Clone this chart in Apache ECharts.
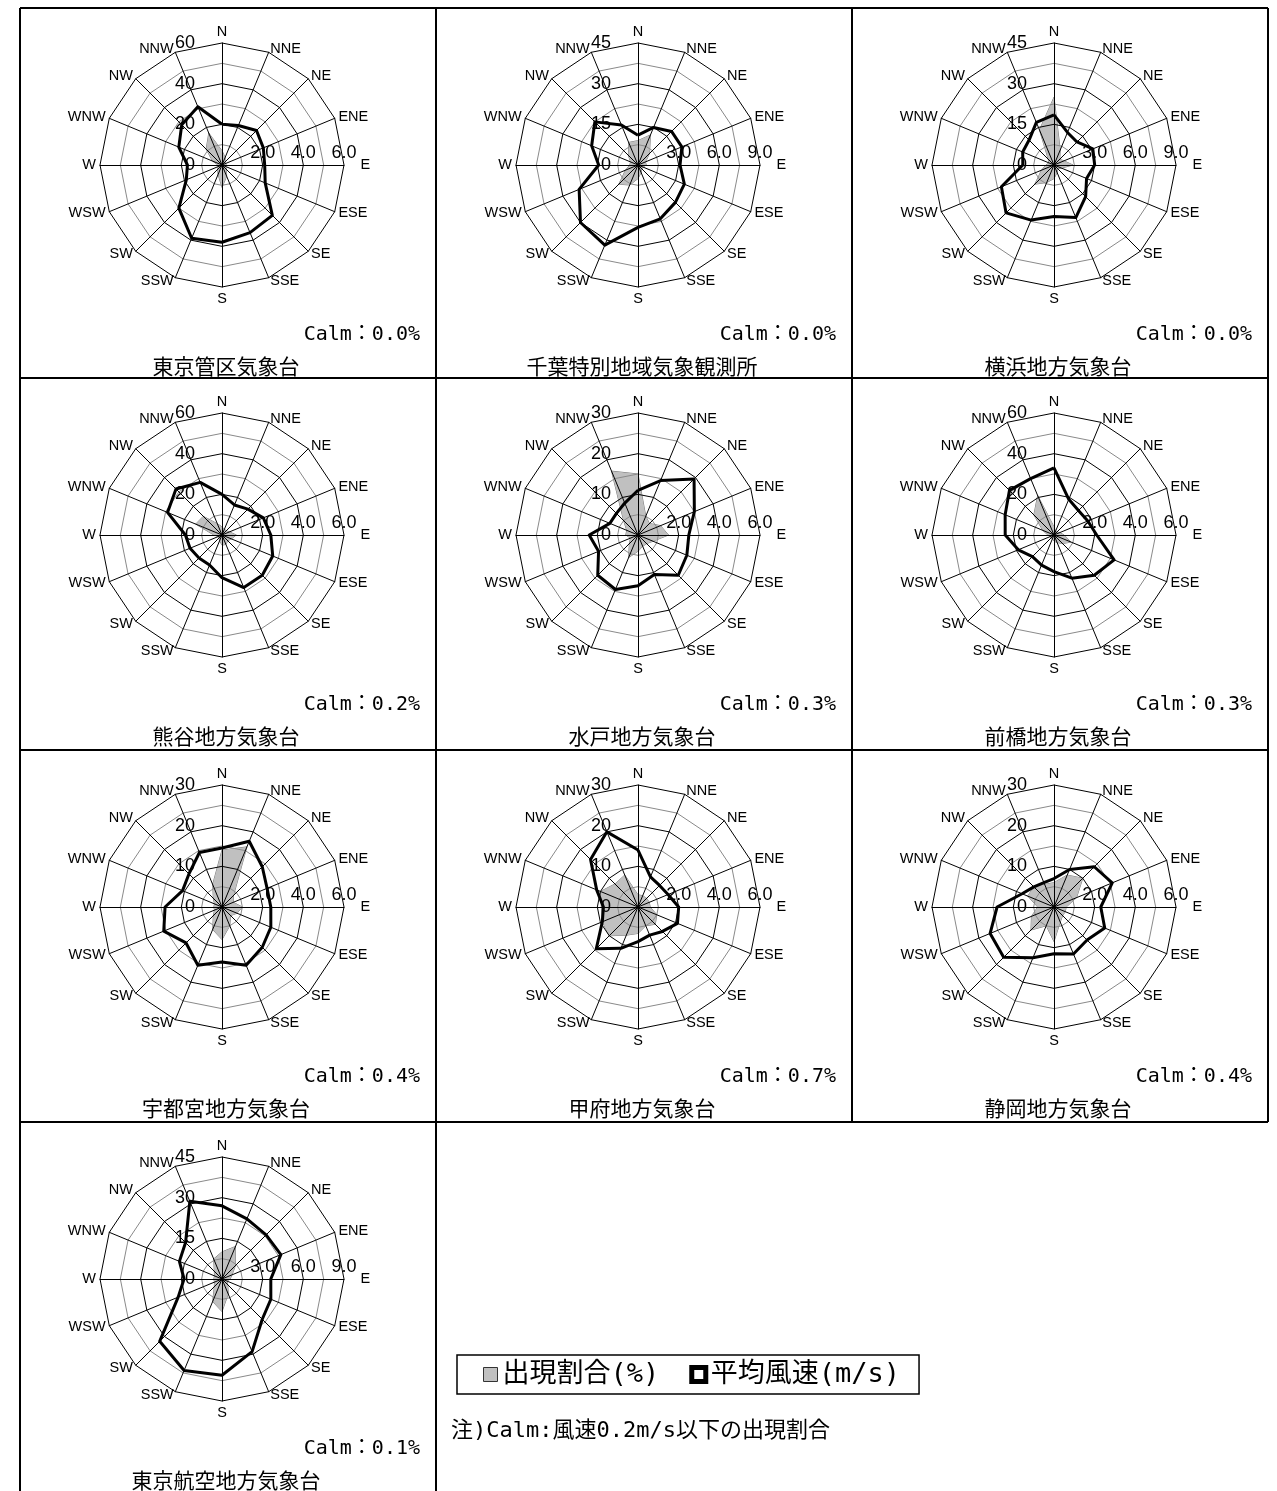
<!DOCTYPE html>
<html>
<head>
<meta charset="utf-8">
<script src="https://cdn.jsdelivr.net/npm/echarts@6/dist/echarts.min.js"></script>
<style>
html,body{margin:0;padding:0;background:#fff;}
#main{width:1277px;height:1491px;}
</style>
</head>
<body>
<div id="main"></div>
<script>
// 16 方位（北から時計回り）
const directions = ['N','NNE','NE','ENE','E','ESE','SE','SSE','S','SSW','SW','WSW','W','WNW','NW','NNW'];

const stationNames = ['東京管区気象台','千葉特別地域気象観測所','横浜地方気象台',
  '熊谷地方気象台','水戸地方気象台','前橋地方気象台',
  '宇都宮地方気象台','甲府地方気象台','静岡地方気象台','東京航空地方気象台'];
const calmRates = ['0.0','0.0','0.0','0.2','0.3','0.3','0.4','0.7','0.4','0.1'];

// 目盛りの最大値
const freqScaleMax  = [60, 45, 45, 60, 30, 60, 30, 30, 30, 45];
const speedScaleMax = [6, 9, 9, 6, 6, 6, 6, 6, 6, 9];

// 出現割合（%） N, NNE, ... NNW
const freqTokyo     = [7, 4, 2, 2, 2, 2, 3, 6, 11, 5, 3, 2, 2, 5, 11, 17];
const freqChiba     = [9, 12, 6, 3, 3, 2, 2, 3, 5, 8, 10, 5, 3, 3, 5, 9];
const freqYokohama  = [25, 6, 3, 4, 7, 3, 2, 3, 5, 7, 10, 5, 3, 2, 3, 14];
const freqKumagaya  = [4, 3, 3, 4, 7, 5, 4, 5, 5, 3, 2, 2, 4, 14, 13, 6];
const freqMito      = [15, 5, 4, 6, 7.5, 4, 3, 3, 4, 6, 3, 2, 3, 3, 5, 17];
const freqMaebashi  = [4, 2, 2, 3, 5, 9, 6, 4, 3, 2, 2, 2, 3, 6, 14, 21];
const freqUtsunomiya= [14, 16, 4, 3, 5, 4, 3, 5, 8, 6, 3, 2, 2, 2, 3, 6];
const freqKofu      = [3, 3, 3, 3, 3, 5, 6, 5, 6.5, 7.5, 10, 9.5, 9, 10, 8, 8.5];
const freqShizuoka  = [6, 8.5, 10, 6, 3, 3, 3, 4, 8.5, 5, 8, 6, 4, 7, 7, 6];
const freqHaneda    = [10, 13, 7, 4, 3, 2, 3, 6, 12, 9, 4, 3, 3, 3, 4, 8];

// 平均風速（m/s） N, NNE, ... NNW
const speedTokyo     = [2.0, 2.1, 2.4, 2.2, 2.1, 2.3, 3.5, 3.6, 3.8, 3.9, 3.0, 1.9, 1.7, 2.3, 2.8, 3.1];
const speedChiba     = [2.2, 3.0, 3.5, 3.5, 3.1, 3.7, 3.9, 4.3, 4.6, 6.4, 6.0, 4.7, 2.9, 3.7, 4.5, 3.2];
const speedYokohama  = [3.7, 2.6, 2.4, 3.1, 3.0, 2.6, 3.3, 4.2, 3.8, 4.4, 5.0, 4.2, 2.3, 2.5, 2.6, 3.4];
const speedKumagaya  = [2.0, 1.6, 1.8, 2.2, 2.4, 2.7, 2.8, 2.8, 2.1, 1.6, 1.6, 1.7, 1.8, 2.9, 3.2, 2.8];
const speedMito      = [2.2, 2.9, 3.9, 3.0, 2.5, 2.6, 2.8, 2.1, 2.5, 2.9, 2.8, 2.1, 2.4, 1.5, 1.5, 1.7];
const speedMaebashi  = [3.3, 1.9, 1.7, 1.8, 2.1, 3.2, 2.8, 2.3, 1.8, 1.6, 1.5, 1.9, 2.4, 2.6, 3.1, 3.0];
const speedUtsunomiya= [2.9, 3.5, 2.8, 2.4, 2.4, 2.6, 2.8, 3.1, 2.7, 3.1, 2.5, 3.1, 2.8, 2.1, 2.3, 2.9];
const speedKofu      = [2.8, 1.6, 1.5, 1.6, 2.0, 2.1, 1.7, 1.5, 1.7, 2.2, 2.9, 1.9, 1.7, 2.2, 3.3, 4.0];
const speedShizuoka  = [1.4, 2.0, 2.8, 3.1, 2.3, 2.7, 2.3, 2.5, 2.3, 2.7, 3.5, 3.4, 2.8, 1.7, 1.4, 1.3];
const speedHaneda    = [5.4, 4.8, 4.6, 4.7, 3.6, 3.9, 4.2, 5.8, 7.1, 7.3, 6.5, 3.5, 2.8, 3.4, 3.8, 6.2];

const freqSets  = [freqTokyo, freqChiba, freqYokohama, freqKumagaya, freqMito,
                   freqMaebashi, freqUtsunomiya, freqKofu, freqShizuoka, freqHaneda];
const speedSets = [speedTokyo, speedChiba, speedYokohama, speedKumagaya, speedMito,
                   speedMaebashi, speedUtsunomiya, speedKofu, speedShizuoka, speedHaneda];

const FREQ_NAME = '出現割合(%)';
const SPEED_NAME = '平均風速(m/s)';

// 表の罫線位置
const colX = [20, 436, 852, 1268];
const rowY = [8, 378, 750, 1122];
const RADIUS = 122;

// radar の軸は反時計回りに並ぶので、時計回りの方位順に並べ替える
const axisOrder = [0];
for (let k = 15; k >= 1; k--) axisOrder.push(k);
const reorder = arr => axisOrder.map(k => arr[k]);

const labelFont = "'Liberation Sans', Arial, sans-serif";
const jpFont = "'Noto Sans CJK JP', sans-serif";
const monoJpFont = "'DejaVu Sans Mono', 'Noto Sans CJK JP', monospace";

const radars = [];
const series = [];
const graphics = [];

stationNames.forEach((name, i) => {
  const col = i % 3, row = Math.floor(i / 3);
  const cx = colX[col] + 202;
  const cy = rowY[row] + 157;
  const sMax = speedScaleMax[i];
  const fMax = freqScaleMax[i];
  const sStep = sMax / 6;

  // 風速の目盛り（格子・方位名・E 軸の数値）
  radars.push({
    center: [cx, cy],
    radius: RADIUS,
    startAngle: 90,
    shape: 'polygon',
    splitNumber: 6,
    z: 1,
    indicator: axisOrder.map(k => {
      const ind = { name: directions[k], min: 0, max: sMax };
      if (k === 4) ind.axisLabel = { show: true };
      return ind;
    }),
    axisName: { show: true, color: '#000', fontSize: 14.5, fontFamily: labelFont },
    nameGap: 4,
    splitLine: { lineStyle: { color: ['#000', '#8a8a8a'], width: 1 } },
    splitArea: { show: false },
    axisLine: { show: true, lineStyle: { color: '#000', width: 1 } },
    axisTick: { show: false },
    axisLabel: {
      show: false,
      color: '#000',
      fontSize: 18,
      fontFamily: labelFont,
      margin: 3,
      formatter: v => {
        const n = Math.round(v / sStep);
        return (n > 0 && n % 2 === 0) ? v.toFixed(1) : '';
      }
    }
  });

  // 出現割合の目盛り（N 軸の左側に数値のみ）
  radars.push({
    center: [cx, cy],
    radius: RADIUS,
    startAngle: 90,
    shape: 'polygon',
    splitNumber: 3,
    z: 4,
    indicator: axisOrder.map(k => {
      const ind = { name: directions[k], min: 0, max: fMax };
      if (k === 0) ind.axisLabel = { show: true };
      return ind;
    }),
    axisName: { show: false },
    splitLine: { show: false },
    splitArea: { show: false },
    axisLine: { show: false },
    axisTick: { show: false },
    axisLabel: {
      show: false,
      color: '#000',
      fontSize: 18,
      fontFamily: labelFont,
      margin: 27,
      padding: [10, 0, 0, 0],
      formatter: v => String(Math.round(v))
    }
  });

  series.push({
    type: 'radar',
    name: FREQ_NAME,
    radarIndex: 2 * i + 1,
    z: 0,
    symbol: 'none',
    silent: true,
    itemStyle: { color: '#c0c0c0' },
    lineStyle: { color: '#7a7a7a', width: 1 },
    areaStyle: { color: '#c0c0c0', opacity: 1 },
    data: [{ value: reorder(freqSets[i]), name: FREQ_NAME }]
  });
  series.push({
    type: 'radar',
    name: SPEED_NAME,
    radarIndex: 2 * i,
    z: 3,
    symbol: 'none',
    silent: true,
    itemStyle: { color: '#000' },
    lineStyle: { color: '#000', width: 3 },
    data: [{ value: reorder(speedSets[i]), name: SPEED_NAME }]
  });

  // Calm と観測所名
  graphics.push({
    type: 'text', z: 10,
    x: colX[col + 1] - 16, y: rowY[row] + 327,
    style: { text: 'Calm：' + calmRates[i] + '%', fill: '#000', font: '20px ' + monoJpFont,
             align: 'right', verticalAlign: 'middle', textAlign: 'right', textVerticalAlign: 'middle' }
  });
  graphics.push({
    type: 'text', z: 10,
    x: colX[col] + 206, y: rowY[row] + 358,
    style: { text: name, fill: '#000', font: '21px ' + jpFont,
             align: 'center', verticalAlign: 'middle', textAlign: 'center', textVerticalAlign: 'middle' }
  });
});

// 表の罫線
const hLine = (x1, x2, y) => ({ type: 'line', z: 10, shape: { x1, y1: y, x2, y2: y }, style: { stroke: '#000', lineWidth: 2 } });
const vLine = (x, y1, y2) => ({ type: 'line', z: 10, shape: { x1: x, y1, x2: x, y2 }, style: { stroke: '#000', lineWidth: 2 } });
rowY.forEach(y => graphics.push(hLine(colX[0], colX[3], y)));
colX.forEach(x => graphics.push(vLine(x, rowY[0], rowY[3])));
graphics.push(vLine(colX[0], rowY[3], 1491));
graphics.push(vLine(colX[1], rowY[3], 1491));

// 注記
graphics.push({
  type: 'text', z: 10,
  x: 451, y: 1431,
  style: { text: '注)Calm:風速0.2m/s以下の出現割合', fill: '#000', font: '22px ' + monoJpFont,
           align: 'left', verticalAlign: 'middle', textAlign: 'left', textVerticalAlign: 'middle' }
});

const chart = echarts.init(document.getElementById('main'), null, { renderer: 'canvas' });
chart.setOption({
  animation: false,
  backgroundColor: '#fff',
  legend: {
    left: 457,
    top: 1355,
    selectedMode: false,
    itemWidth: 14,
    itemHeight: 14,
    itemGap: 30,
    borderColor: '#000',
    borderWidth: 1.5,
    padding: [6, 19, 6, 26],
    textStyle: { fontSize: 27, color: '#000', fontFamily: monoJpFont },
    data: [
      { name: FREQ_NAME, icon: 'rect', itemStyle: { color: '#c0c0c0', borderColor: '#333', borderWidth: 1 } },
      { name: SPEED_NAME, icon: 'rect', itemStyle: { color: '#fff', borderColor: '#000', borderWidth: 5 } }
    ]
  },
  radar: radars,
  series: series,
  graphic: graphics
});
</script>
</body>
</html>
